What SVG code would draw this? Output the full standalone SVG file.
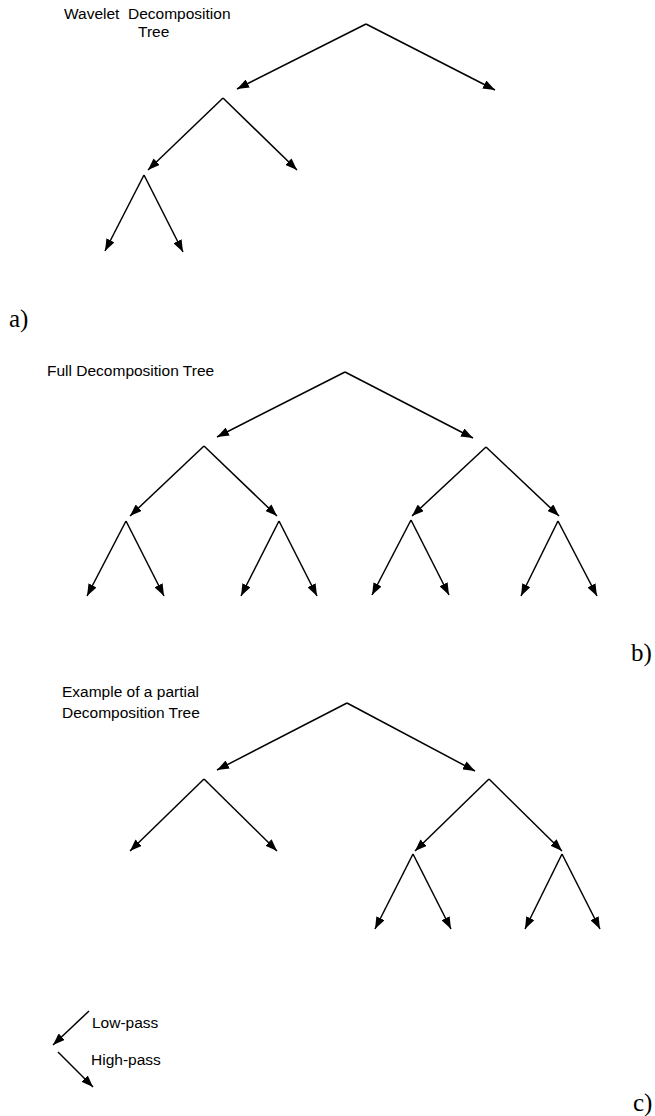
<svg xmlns="http://www.w3.org/2000/svg" width="655" height="1116" viewBox="0 0 655 1116">
<style>
.e{stroke:#000;stroke-width:1.5;fill:none;marker-end:url(#ah)}
.t{font-family:"Liberation Sans",Arial,sans-serif;font-size:15.5px;fill:#000;white-space:pre}
.p{font-family:"Liberation Serif","Times New Roman",serif;font-size:25px;fill:#000}
</style>
<defs>
<marker id="ah" markerUnits="userSpaceOnUse" markerWidth="12" markerHeight="9" refX="12" refY="4.5" orient="auto">
<path d="M0,0 L12,4.5 L0,9 z" fill="#000"/>
</marker>
</defs>
<rect width="655" height="1116" fill="#fff"/>

<g id="title-a"><text class="t" x="64" y="19" xml:space="preserve">Wavelet  Decomposition</text><text class="t" x="138" y="37">Tree</text></g>
<g id="label-a"><text class="p" x="9" y="327">a)</text></g>
<g id="connectors-a">
<line class="e" x1="366" y1="24" x2="237" y2="89"/>
<line class="e" x1="366" y1="24" x2="495" y2="90"/>
<line class="e" x1="223" y1="98" x2="148" y2="170"/>
<line class="e" x1="223" y1="98" x2="297" y2="170"/>
<line class="e" x1="144" y1="175" x2="105" y2="251"/>
<line class="e" x1="144" y1="175" x2="183" y2="252"/>
</g>

<g id="title-b"><text class="t" x="47" y="376">Full Decomposition Tree</text></g>
<g id="label-b"><text class="p" x="631" y="661">b)</text></g>
<g id="connectors-b">
<line class="e" x1="345" y1="372" x2="217" y2="437"/>
<line class="e" x1="345" y1="372" x2="473" y2="438"/>
<line class="e" x1="204" y1="446" x2="130" y2="516"/>
<line class="e" x1="204" y1="446" x2="277" y2="516"/>
<line class="e" x1="486" y1="447" x2="412" y2="516"/>
<line class="e" x1="486" y1="447" x2="559" y2="516"/>
<line class="e" x1="126" y1="521" x2="87" y2="596"/>
<line class="e" x1="126" y1="521" x2="164" y2="596"/>
<line class="e" x1="279" y1="521" x2="241" y2="596"/>
<line class="e" x1="279" y1="521" x2="317" y2="596"/>
<line class="e" x1="411" y1="520" x2="372" y2="595"/>
<line class="e" x1="411" y1="520" x2="449" y2="595"/>
<line class="e" x1="558" y1="521" x2="521" y2="596"/>
<line class="e" x1="558" y1="521" x2="597" y2="596"/>
</g>

<g id="title-c"><text class="t" x="62" y="697">Example of a partial</text><text class="t" x="62" y="718">Decomposition Tree</text></g>
<g id="label-c"><text class="p" x="633" y="1111">c)</text></g>
<g id="connectors-c">
<line class="e" x1="347" y1="703" x2="217" y2="770"/>
<line class="e" x1="347" y1="703" x2="475" y2="771"/>
<line class="e" x1="204" y1="779" x2="130" y2="851"/>
<line class="e" x1="204" y1="779" x2="277" y2="851"/>
<line class="e" x1="489" y1="779" x2="415" y2="851"/>
<line class="e" x1="489" y1="779" x2="562" y2="851"/>
<line class="e" x1="413" y1="854" x2="375" y2="929"/>
<line class="e" x1="413" y1="854" x2="451" y2="929"/>
<line class="e" x1="562" y1="854" x2="525" y2="929"/>
<line class="e" x1="562" y1="854" x2="600" y2="929"/>
</g>

<g id="legend">
<line class="e" x1="89" y1="1011" x2="53" y2="1045"/>
<line class="e" x1="58" y1="1052" x2="93" y2="1087"/>
<text class="t" x="92" y="1028">Low-pass</text>
<text class="t" x="91" y="1065">High-pass</text>
</g>
</svg>
